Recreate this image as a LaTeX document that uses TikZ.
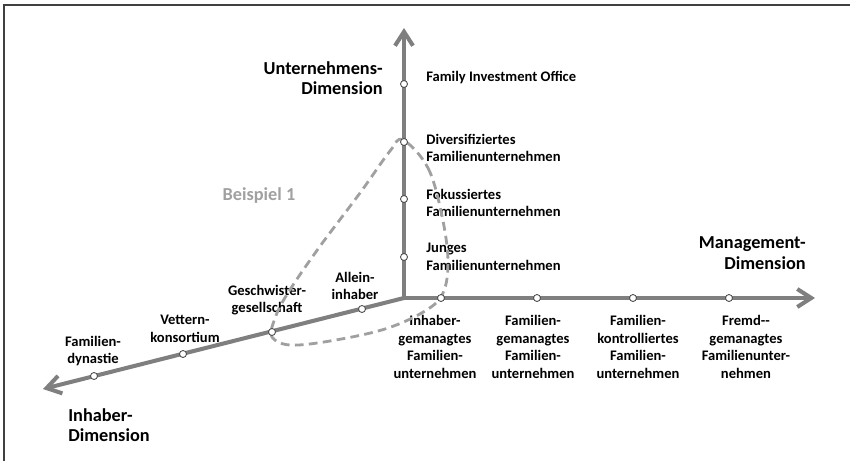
\documentclass[tikz,border=0pt]{standalone}
\usepackage{fontspec}
\setmainfont{Carlito}
\usepackage{xcolor}
\definecolor{axisgray}{HTML}{7F7F7F}
\definecolor{dashgray}{HTML}{A0A0A0}
\definecolor{framegray}{HTML}{404040}
\usepackage{tikz}
\usetikzlibrary{arrows.meta,positioning,calc}

\begin{document}
\begin{tikzpicture}[x=0.02cm,y=0.02cm,
  >={Straight Barb[length=2.8mm,width=3.6mm]},
  axis/.style={axisgray,line width=2.3pt},
  pt/.style={circle,draw=axisgray!60!black,fill=white,inner sep=0pt,minimum size=0.14cm,line width=0.5pt},
  lbl/.style={font=\bfseries\fontsize{8.3}{10}\selectfont,align=center,inner sep=0pt},
  dim/.style={font=\bfseries\fontsize{10.4}{11.6}\selectfont,inner sep=0pt},
  area/.style={dashgray,line width=1.6pt,dash pattern=on 5pt off 3pt}]
\useasboundingbox (0,0) rectangle (850,461);
\draw[framegray,line width=0.9pt] (4,0) -- (4,456) -- (850,456);
% Achsen
\coordinate (O) at (404,163);
\coordinate (utop) at (404,433);
\coordinate (mend) at (815,163);
\coordinate (iend) at (43,72);
\draw[axis,<->] (utop) -- (O) -- (mend);
\draw[axis,->] (O) -- (iend);
% Dimensionen
\node[dim,align=right,anchor=east] (udim) at (383,383) {Unternehmens-\\Dimension};
\node[dim,align=right,anchor=east] (mdim) at (806,208) {Management-\\Dimension};
\node[dim,align=left,anchor=west] (idim) at (68,36) {Inhaber-\\Dimension};
% Unternehmen
\node[lbl,align=left,anchor=west] (fiol) at (426,383) {Family Investment Office};
\node[lbl,align=left,anchor=west] (divl) at (426,313) {Diversifiziertes\\Familienunternehmen};
\node[lbl,align=left,anchor=west] (fokl) at (426,258) {Fokussiertes\\Familienunternehmen};
\node[lbl,align=left,anchor=west] (junl) at (426,204) {Junges\\Familienunternehmen};
% Management
\node[lbl] (igl) at (435,114) {Inhaber-\\gemanagtes\\Familien-\\unternehmen};
\node[lbl] (fgl) at (533,114) {Familien-\\gemanagtes\\Familien-\\unternehmen};
\node[lbl] (fkl) at (638,114) {Familien-\\kontrolliertes\\Familien-\\unternehmen};
\node[lbl] (frl) at (746,114) {Fremd-{}-\\gemanagtes\\Familienunter-\\nehmen};
% Inhaber
\node[lbl] (ail) at (355,175) {Allein-\\inhaber};
\node[lbl] (ggl) at (267,161) {Geschwister-\\gesellschaft};
\node[lbl] (vkl) at (185,132) {Vettern-\\konsortium};
\node[lbl] (fdl) at (93,110) {Familien-\\dynastie};
% Beispiel
\node[dim,text=dashgray] (bsp) at (259,265) {Beispiel 1};
\draw[area] plot[smooth cycle,tension=0.6] coordinates {(403,321) (428,293) (442,245) (448,200) (443,168) (425,150) (385,132) (330,120) (290,116) (272,124) (274,140) (286,165) (318,212) (360,268) (390,310)};
% Punkte
\node[pt] (fio) at (404,377) {};
\node[pt] (div) at (404,319) {};
\node[pt] (fok) at (404,262) {};
\node[pt] (jun) at (404,204) {};
\node[pt] (ig) at (441,163) {};
\node[pt] (fg) at (537,163) {};
\node[pt] (fk) at (633,163) {};
\node[pt] (fr) at (729,163) {};
\node[pt] (ai) at (362,152) {};
\node[pt] (gg) at (272,129) {};
\node[pt] (vk) at (183,107) {};
\node[pt] (fd) at (94,85) {};
\end{tikzpicture}
\end{document}
